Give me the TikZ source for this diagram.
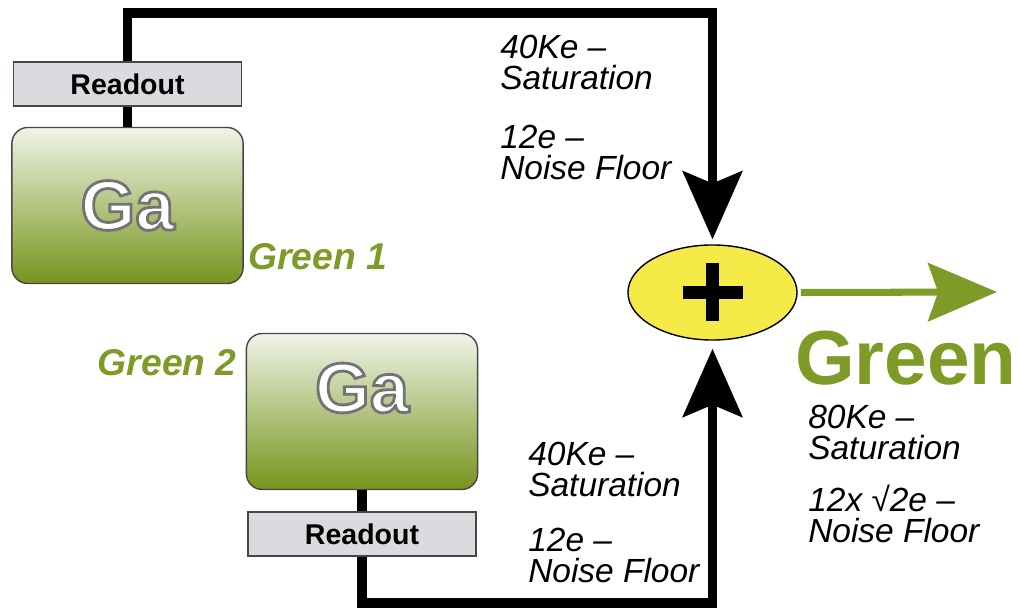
\documentclass[tikz,border=0pt]{standalone}
\usepackage{fontspec}
\setmainfont{Liberation Sans}
\usetikzlibrary{arrows.meta,shapes.geometric}

\definecolor{leaf}{RGB}{125,155,38}
\definecolor{leafdeep}{RGB}{118,148,28}
\definecolor{leaflight}{RGB}{240,244,232}
\definecolor{readgray}{RGB}{218,219,223}
\definecolor{edgegray}{RGB}{70,70,70}
\definecolor{sumyellow}{RGB}{246,234,72}

% white letters with a grey outline
\newcommand\outlined[1]{\special{pdf:literal direct q 0.45 G 2 w 2 Tr}#1\special{pdf:literal direct Q}}

\tikzset{
  readout/.style={draw=edgegray, line width=1pt, fill=readgray, minimum width=5.7cm,
    minimum height=1.1cm, inner sep=0pt, font=\bfseries\fontsize{20.3}{22}\selectfont},
  pixelbox/.style={draw=edgegray, line width=1pt, rounded corners=0.4cm, minimum width=5.78cm,
    minimum height=3.9cm, inner sep=0pt, top color=leaflight, bottom color=leafdeep},
  galabel/.style={inner sep=0pt, text=white, font=\bfseries\fontsize{50}{52}\selectfont},
  chname/.style={inner sep=0pt, text=leaf, font=\bfseries\itshape\fontsize{26.5}{28}\selectfont},
  spec/.style={inner sep=0pt, align=left, font=\itshape\fontsize{23.8}{22}\selectfont},
  wire/.style={line width=7pt},
  feed/.style={wire, -{Stealth[length=1.7cm, width=1.475cm, inset=0.3cm]}},
  outarrow/.style={line width=5pt, leaf, -{Stealth[length=1.72cm, width=1.45cm, inset=0.25cm]}},
}

\begin{document}
\begin{tikzpicture}[x=0.025cm, y=-0.025cm]
  \useasboundingbox (0,0) rectangle (1019,609);

  % first green pixel, read out at the top
  \node[readout] (read1) at (127.5,84) {Readout};
  \node[pixelbox] (box1) at (127.5,205.5) {};
  \node[galabel] (ga1) at (box1.center) {\outlined{Ga}};
  \node[chname, anchor=base west] (green1) at (248,270) {Green 1};

  % second green pixel, read out at the bottom
  \node[pixelbox] (box2) at (362,411.5) {};
  \node[galabel] (ga2) at (362,388) {\outlined{Ga}};
  \node[chname, anchor=base east] (green2) at (237,376) {Green 2};
  \node[readout] (read2) at (362,534) {Readout};

  % summing node
  \node[ellipse, draw, line width=1pt, fill=sumyellow, minimum width=4.225cm,
    minimum height=2.375cm, inner sep=0pt] (sum) at (712.5,292.5) {};
  \draw[line width=9.3pt] (sum.center) +(-30,0) -- +(30,0) +(0,-29) -- +(0,29);

  \coordinate (ctop) at (712.5,13);
  \coordinate (cbot) at (712.5,603);
  \coordinate (gtip) at (997,292);

  \draw[wire] (read1) -- (box1);
  \draw[wire] (box2) -- (read2);
  \draw[feed, shorten >=0.12cm] (read1.north) |- (ctop) -- (sum.north);
  \draw[feed, shorten >=0.2cm] (read2.south) |- (cbot) -- (sum.south);
  \draw[outarrow, shorten <=0.08cm] (sum.east) -- (gtip);

  % figures
  \node[spec, anchor=north west] (satA) at (500,35) {40Ke –\\Saturation};
  \node[spec, anchor=north west] (noiseA) at (500,125) {12e –\\Noise Floor};
  \node[spec, anchor=north west] (satB) at (528,442) {40Ke –\\Saturation};
  \node[spec, anchor=north west] (noiseB) at (528,528) {12e –\\Noise Floor};
  \node[spec, anchor=north west] (satC) at (808,405) {80Ke –\\Saturation};
  \node[spec, anchor=north west] (noiseC) at (808,485) {12x √2e –\\Noise Floor};

  \node[inner sep=0pt, text=leaf, font=\bfseries\fontsize{54.5}{56}\selectfont,
    anchor=base west] (green) at (795,385) {Green};
\end{tikzpicture}
\end{document}
